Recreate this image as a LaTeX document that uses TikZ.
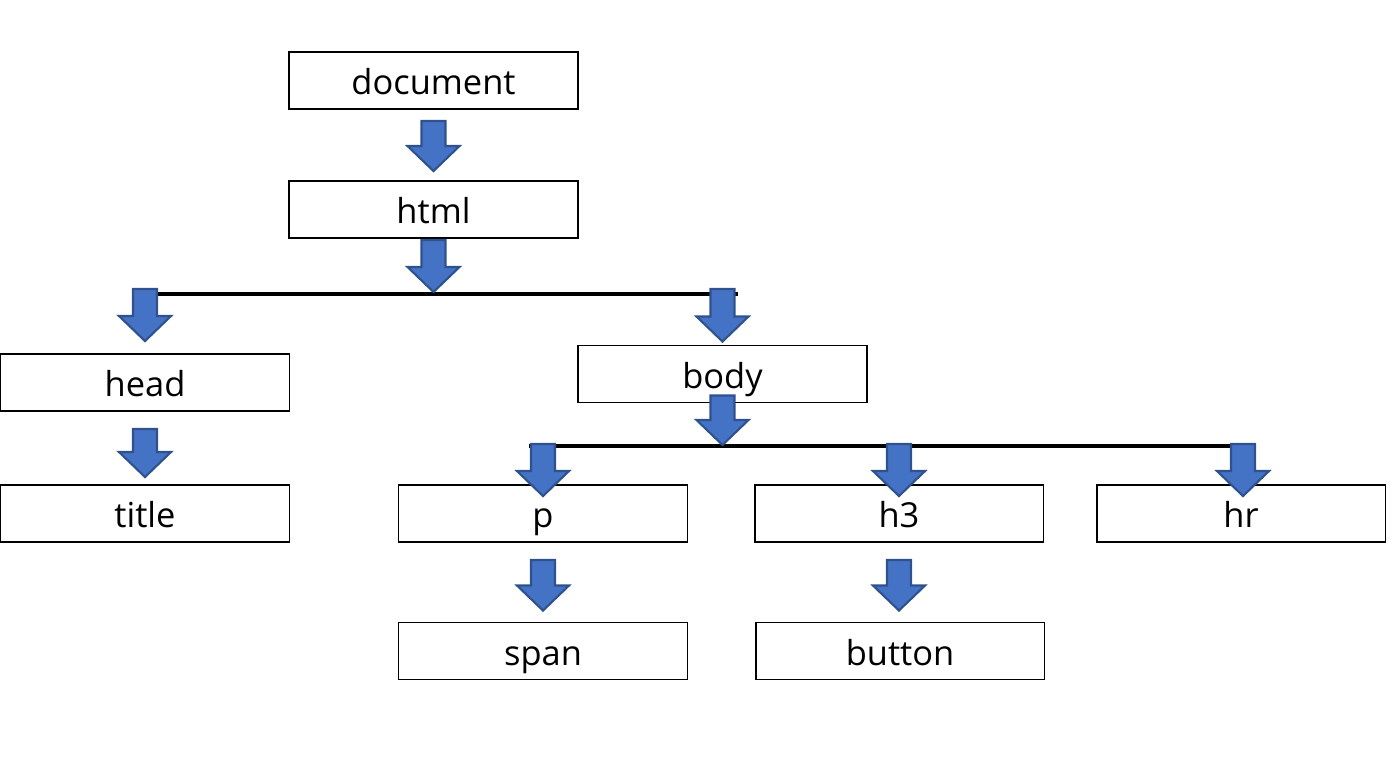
\documentclass[tikz,border=0pt]{standalone}
\usepackage{fontspec}
\setmainfont{Open Sans}
\usepackage{xcolor}
\usetikzlibrary{calc}

\definecolor{arrowfill}{HTML}{4472C4}
\definecolor{arrowline}{HTML}{2F528F}

\tikzset{
  tagbox/.style={draw=black, line width=1.1pt, fill=white, minimum width=5.78cm, minimum height=1.14cm,
    inner sep=0pt, text height=16pt, text depth=0pt, font=\fontsize{19.6}{23}\selectfont},
  bar/.style={black, line width=2.4pt},
  blockarrow/.style={fill=arrowfill, draw=arrowline, line width=1.2pt,
    to path={let \p1=(\tikztostart), \p2=(\tikztotarget) in
      (\x1-0.24cm,\y1) -- (\x1+0.24cm,\y1) -- (\x1+0.24cm,\y2+0.5cm) -- (\x1+0.52cm,\y2+0.5cm)
      -- (\x1,\y2) -- (\x1-0.52cm,\y2+0.5cm) -- (\x1-0.24cm,\y2+0.5cm) -- cycle}}
}

\begin{document}
\begin{tikzpicture}[x=0.02cm, y=-0.02cm]

\useasboundingbox (0,0) rectangle (1400,763);

% boxes
\node[tagbox] (document) at (433.5,80.5) {document};
\node[tagbox] (html) at (433.5,209.5) {html};
\node[tagbox] (head) at (145,382.5) {head};
\node[tagbox] (title) at (145,513.5) {title};
\node[tagbox] (body) at (722.5,374) {body};
\node[tagbox] (p) at (543,513.5) {p};
\node[tagbox] (h3) at (899,513.5) {h3};
\node[tagbox] (hr) at (1241,513.5) {hr};
\node[tagbox] (span) at (543,651) {span};
\node[tagbox] (button) at (900,651) {button};

% branch bars
\coordinate (bar1l) at (158,294);
\coordinate (bar1r) at (738,294);
\coordinate (bar2l) at (529,446);
\coordinate (bar2r) at (1256,446);
\draw[bar] (bar1l) -- (bar1r);
\draw[bar] (bar2l) -- (bar2r);

% arrows
\draw[blockarrow] ($(document.south)+(0,11)$) to ($(html.north)+(0,-9)$);
\draw[blockarrow] ($(html.south)+(0,1)$) to ($(html.south |- bar1l)+(0,-2)$);
\draw[blockarrow] ($(head.north |- bar1l)+(0,-5)$) to ($(head.north)+(0,-12)$);
\draw[blockarrow] ($(body.north |- bar1l)+(0,-5)$) to ($(body.north)+(0,-3)$);
\draw[blockarrow] ($(body.south)+(0,-8)$) to ($(body.south |- bar2l)+(0,-1)$);
\draw[blockarrow] ($(p.north |- bar2l)+(0,-2)$) to ($(p.north)+(0,12)$);
\draw[blockarrow] ($(h3.north |- bar2l)+(0,-2)$) to ($(h3.north)+(0,12)$);
\draw[blockarrow] ($(hr.north |- bar2l)+(2,-2)$) to ($(hr.north)+(2,12)$);
\draw[blockarrow] ($(head.south)+(0,17)$) to ($(title.north)+(0,-7)$);
\draw[blockarrow] ($(p.south)+(0,17)$) to ($(span.north)+(0,-11)$);
\draw[blockarrow] ($(h3.south)+(0,17)$) to ($(button.north)+(0,-11)$);

\end{tikzpicture}
\end{document}
